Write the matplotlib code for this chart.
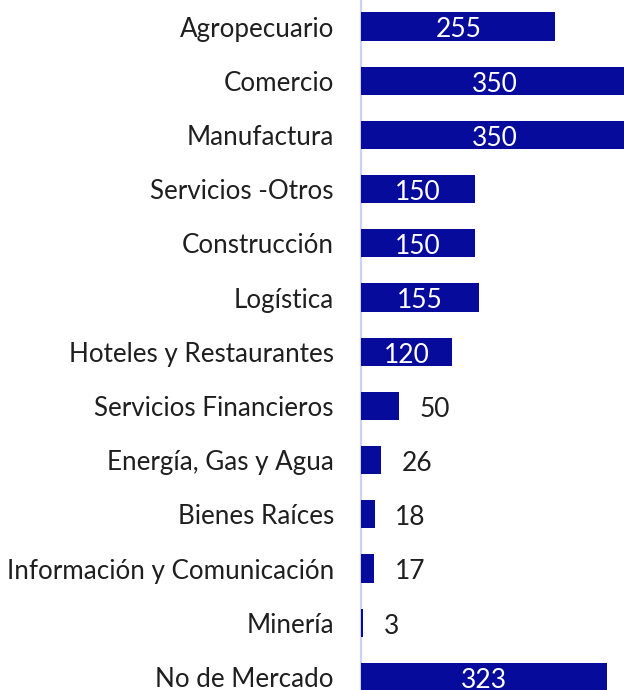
import matplotlib
matplotlib.use("Agg")
import matplotlib.pyplot as plt

# sectors, top to bottom
sectors = [
    "Agropecuario",
    "Comercio",
    "Manufactura",
    "Servicios -Otros",
    "Construcción",
    "Logística",
    "Hoteles y Restaurantes",
    "Servicios Financieros",
    "Energía, Gas y Agua",
    "Bienes Raíces",
    "Información y Comunicación",
    "Minería",
    "No de Mercado",
]
values = [255, 350, 350, 150, 150, 155, 120, 50, 26, 18, 17, 3, 323]

BAR_COLOR = "#070B9B"
TEXT_COLOR = "#1F1F1F"
FONT = "Lato"

fig = plt.figure(figsize=(6.24, 6.90), dpi=100)
ax = fig.add_axes([361 / 624, 0, 1 - 361 / 624, 1])

pos = list(range(len(sectors)))
ax.barh(pos, values, height=0.52, color=BAR_COLOR, zorder=2)

ax.set_xlim(0, 345)
ax.set_ylim(12.24, -0.49)

for p, v in zip(pos, values):
    if v >= 100:
        ax.text(v / 2, p + 0.06, str(v), ha="center", va="center",
                color="white", fontsize=19, family=FONT, zorder=3)
    else:
        ax.text(v + 27, p + 0.06, str(v), ha="left", va="center",
                color=TEXT_COLOR, fontsize=19, family=FONT, zorder=3)

ax.set_yticks(pos)
ax.set_yticklabels(sectors, fontsize=18.7, family=FONT, color=TEXT_COLOR)
ax.tick_params(axis="y", length=0, pad=19.5)
ax.set_xticks([])

for side in ["top", "right", "bottom"]:
    ax.spines[side].set_visible(False)
ax.spines["left"].set_color("#CDD1F7")
ax.spines["left"].set_linewidth(1.6)
ax.spines["left"].set_zorder(1)

fig.savefig("out.png", dpi=100)
